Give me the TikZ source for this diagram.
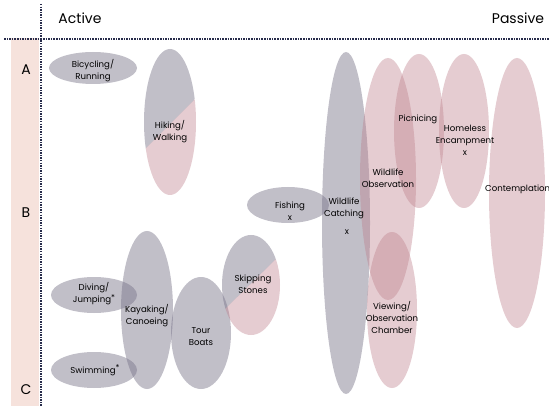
\documentclass[tikz,border=0pt]{standalone}
\usepackage{fontspec}
\setmainfont{Poppins}
\definecolor{grayE}{RGB}{118,113,134}
\definecolor{pinkE}{RGB}{190,128,140}
\definecolor{stripc}{RGB}{246,226,220}
\definecolor{dotc}{RGB}{40,44,75}
\newcommand{\astr}{\raisebox{2.5pt}{\fontsize{8}{8}\selectfont *}}
\begin{document}
\begin{tikzpicture}[x=1pt,y=-1pt,
  grayell/.style={fill=grayE,fill opacity=0.45},
  pinkell/.style={fill=pinkE,fill opacity=0.4},
  lbl/.style={font=\fontsize{8.6}{12}\selectfont,align=center,text=black,inner sep=0pt},
  axislbl/.style={font=\fontsize{14}{16}\selectfont,inner sep=0pt,text=black},
  dotline/.style={draw=dotc,line width=2pt,dash pattern=on 1.5pt off 1.1pt}]
\useasboundingbox (0,0) rectangle (549,406);
% pink strip
\fill[stripc] (11,38) rectangle (39,406);
% axes
\coordinate (vtop) at (40.5,4);
\coordinate (vbot) at (40.5,406);
\coordinate (hl) at (4,39.5);
\coordinate (hr) at (549,39.5);
\draw[dotline] (vtop) -- (vbot);
\draw[dotline] (hl) -- (hr);
\node[axislbl] (active) at (80,18) {Active};
\node[axislbl] (passive) at (518,18) {Passive};
\node[axislbl] (rA) at (26,70) {A};
\node[axislbl] (rB) at (26,213) {B};
\node[axislbl] (rC) at (26,390) {C};

% ellipses - left group
\fill[grayell] (93,68) ellipse [x radius=44, y radius=16];
\begin{scope}
  \clip (100,194) -- (250,44) -- (250,0) -- (100,0) -- cycle;
  \fill[grayell] (170,122) ellipse [x radius=26, y radius=73];
\end{scope}
\begin{scope}
  \clip (100,194) -- (250,44) -- (250,300) -- (100,300) -- cycle;
  \fill[pinkell] (170,122) ellipse [x radius=26, y radius=73];
\end{scope}
\fill[grayell] (94,295) ellipse [x radius=43, y radius=18];
\fill[grayell] (94,370) ellipse [x radius=43, y radius=18];
\fill[grayell] (147,310) ellipse [x radius=26, y radius=79];
\fill[grayell] (201,333) ellipse [x radius=30, y radius=56];
\begin{scope}
  \clip (200,333.5) -- (300,235.5) -- (300,200) -- (200,200) -- cycle;
  \fill[grayell] (251,285) ellipse [x radius=29, y radius=50];
\end{scope}
\begin{scope}
  \clip (200,333.5) -- (300,235.5) -- (300,400) -- (200,400) -- cycle;
  \fill[pinkell] (251,285) ellipse [x radius=29, y radius=50];
\end{scope}
% right group
\fill[grayell] (288,205) ellipse [x radius=41, y radius=18];
\fill[grayell] (346,223) ellipse [x radius=24, y radius=171];
\fill[pinkell] (388,179) ellipse [x radius=28, y radius=121];
\fill[pinkell] (392,310) ellipse [x radius=25, y radius=78];
\fill[pinkell] (419,131) ellipse [x radius=25, y radius=77];
\fill[pinkell] (464,131) ellipse [x radius=25, y radius=77];
\fill[pinkell] (517,193) ellipse [x radius=28, y radius=135];

% labels
\node[lbl] (bike) at (93,71) {Bicycling/\\Running};
\node[lbl] (hike) at (170,132) {Hiking/\\Walking};
\node[lbl] (fish) at (290,211) {Fishing\\x};
\node[lbl] (catch) at (344,208) {Wildlife\\Catching};
\node[lbl] (catchx) at (347,232) {x};
\node[lbl] (obs) at (388,178) {Wildlife\\Observation};
\node[lbl] (picnic) at (418,119) {Picnicing};
\node[lbl] (homeless) at (465,140) {Homeless\\Encampment\\x};
\node[lbl,anchor=west] (contemp) at (485,189) {Contemplation};
\node[lbl] (view) at (392,317) {Viewing/\\Observation\\Chamber};
\node[lbl] (skip) at (253,284) {Skipping\\Stones};
\node[lbl] (dive) at (94,294) {Diving/\\Jumping\astr};
\node[lbl] (kayak) at (147,316) {Kayaking/\\Canoeing};
\node[lbl] (tour) at (201,337) {Tour\\Boats};
\node[lbl] (swim) at (95,370) {Swimming\astr};
\end{tikzpicture}
\end{document}
